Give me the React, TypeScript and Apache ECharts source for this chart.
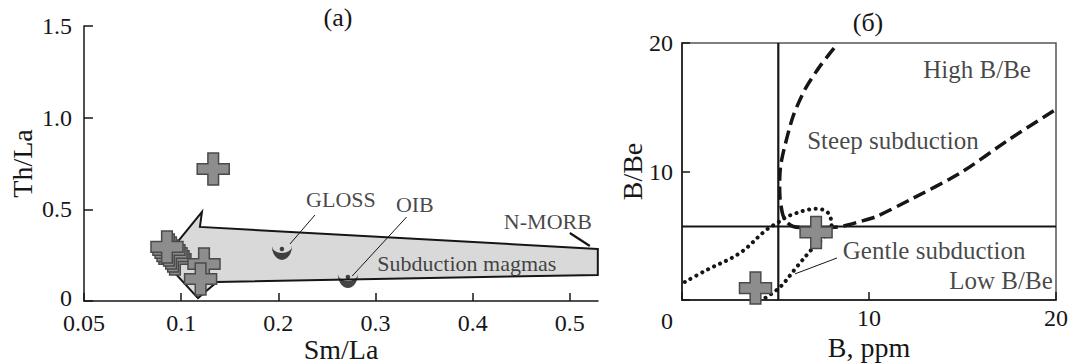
import React, { useEffect, useRef } from 'react';
import * as echarts from 'echarts';

const FONT = 'Liberation Serif, Times New Roman, serif';
const INK = '#161616';

// ---------- Panel (a): Th/La vs Sm/La ----------
const smLaTicks = [0.05, 0.1, 0.2, 0.3, 0.4, 0.5];
const thLaTicks = [0, 0.5, 1.0, 1.5];
// samples (drawn in this order: later items on top)
const samplesSmLa = [0.133, 0.0968, 0.0958, 0.0948, 0.0937, 0.0927, 0.1235, 0.12];
const samplesThLa = [0.72, 0.229, 0.245, 0.262, 0.278, 0.295, 0.202, 0.12];
// "Subduction magmas" arrow outline
const arrowSmLa = [0.5288, 0.1193, 0.1214, 0.0906, 0.1173, 0.1368, 0.5288];
const arrowThLa = [0.284, 0.404, 0.486, 0.224, 0.016, 0.104, 0.142];
// reference compositions
const refNames = ['GLOSS', 'OIB'];
const refSmLa = [0.2037, 0.2716];
const refThLa = [0.284, 0.131];
const refLabelSmLa = [0.2644, 0.3405];
const refLabelThLa = [0.556, 0.524];
const refLeaderSmLa = [[0.2377, 0.212], [0.332, 0.276]];
const refLeaderThLa = [[0.469, 0.311], [0.458, 0.136]];
const aNotes = ['Subduction magmas', 'N-MORB'];
const aNoteSmLa = [0.394, 0.4774];
const aNoteThLa = [0.207, 0.436];
const morbArrowSmLa = [0.5, 0.5206];
const morbArrowThLa = [0.371, 0.3];

// ---------- Panel (б): B/Be vs B ----------
const bTicks = [0, 10, 20];
const steepB = [8.13, 7.38, 6.58, 5.94, 5.45, 5.27, 5.22, 5.25, 5.4, 5.65, 5.95, 6.5, 7.5, 8.45, 9.5, 10.4, 12.2, 14.9, 17.5, 19.95];
const steepR = [19.6, 18.2, 16.4, 14.3, 11.7, 10.4, 9.0, 7.8, 6.6, 6.0, 5.72, 5.62, 5.62, 5.7, 6.1, 6.5, 7.8, 9.9, 12.5, 14.8];
const gentleB = [0.15, 1.33, 3.1, 4.5, 5.1, 5.8, 7.2, 7.8, 8.0, 7.6, 7.0, 6.15, 5.24, 4.44];
const gentleR = [1.4, 2.34, 3.66, 5.45, 6.0, 6.6, 7.1, 6.8, 5.85, 4.9, 4.05, 2.6, 1.0, 0.15];
const samplesB = [7.17, 3.93];
const samplesR = [5.26, 0.93];
const limitB = 5.15;
const limitR = 5.72;
const bNotes = ['High B/Be', 'Steep subduction', 'Gentle subduction', 'Low B/Be'];
const bNoteB = [15.78, 11.28, 13.48, 17.06];
const bNoteR = [17.9, 12.4, 3.82, 1.48];
const gentleLeaderB = [8.29, 6.04];
const gentleLeaderR = [3.27, 2.03];

// piecewise Sm/La scale: equal spacing between the tick values
function toT(v: number): number {
  const t = smLaTicks;
  for (let i = 0; i < t.length - 1; i++) {
    if (v <= t[i + 1]) return i + (v - t[i]) / (t[i + 1] - t[i]);
  }
  const n = t.length - 1;
  return n + (v - t[n]) / (t[n] - t[n - 1]);
}

const CROSS = 'path://M8,0H16V8H24V16H16V24H8V16H0V8H8Z';
const CUP = 'path://M0,0A10,12 0 0 0 20,0A10,6 0 0 1 0,0Z';

export default function App() {
  const ref = useRef<HTMLDivElement>(null);
  useEffect(() => {
    if (!ref.current) return;
    const chart = echarts.init(ref.current, undefined, { renderer: 'svg' });
    const tickFont = { fontFamily: FONT, fontSize: 24, color: INK };
    const nameFont = { fontFamily: FONT, fontSize: 28, color: INK };
    const axisLine = { show: true, onZero: false, lineStyle: { color: INK, width: 1.5 } };

    const option: any = {
      animation: false,
      textStyle: { fontFamily: FONT },
      grid: [
        { left: 84, top: 26, width: 514, height: 275, outerBoundsMode: 'none', containLabel: false },
        { left: 682, top: 43, width: 374, height: 257, outerBoundsMode: 'none', containLabel: false, show: true, borderColor: '#555', borderWidth: 1.5, backgroundColor: 'transparent' },
      ],
      xAxis: [
        {
          gridIndex: 0, type: 'value', min: 0, max: toT(0.529),
          axisLine,
          axisTick: { inside: true, length: 8, lineStyle: { color: INK, width: 1.5 }, customValues: smLaTicks.map((_, i) => i) },
          axisLabel: { ...tickFont, margin: 12, lineHeight: 20, customValues: smLaTicks.map((_, i) => i), formatter: (v: number) => String(smLaTicks[Math.round(v)]) },
          splitLine: { show: false },
          name: 'Sm/La', nameLocation: 'middle', nameGap: 34, nameMoveOverlap: false, nameTextStyle: nameFont,
        },
        {
          gridIndex: 1, type: 'value', min: 0, max: 20, interval: 10,
          axisLine,
          axisTick: { inside: true, length: 8, lineStyle: { color: INK, width: 1.5 } },
          axisLabel: { ...tickFont, margin: 7, lineHeight: 22, formatter: (v: number) => (v === 0 ? '' : String(v)) },
          splitLine: { show: false },
          name: 'B, ppm', nameLocation: 'middle', nameGap: 33, nameMoveOverlap: false, nameTextStyle: nameFont,
        },
      ],
      yAxis: [
        {
          gridIndex: 0, type: 'value', min: 0, max: 1.5, interval: 0.5,
          axisLine,
          axisTick: { inside: true, length: 9, lineStyle: { color: INK, width: 1.5 } },
          axisLabel: {
            ...tickFont, margin: 12, lineHeight: 16,
            formatter: (v: number) => (v === 0 ? '{z|0}' : v.toFixed(1)),
            rich: { z: { fontFamily: FONT, fontSize: 24, color: INK, lineHeight: 16, padding: [0, 0, 6, 0] } },
          },
          splitLine: { show: false },
          name: 'Th/La', nameLocation: 'middle', nameGap: 48, nameMoveOverlap: false, nameTextStyle: nameFont,
        },
        {
          gridIndex: 1, type: 'value', min: 0, max: 20, interval: 10,
          axisLine,
          axisTick: { inside: true, length: 8, lineStyle: { color: INK, width: 1.5 } },
          axisLabel: { ...tickFont, margin: 9, formatter: (v: number) => (v === 0 ? '' : String(v)) },
          splitLine: { show: false },
          name: 'B/Be', nameLocation: 'middle', nameGap: 36, nameMoveOverlap: false, nameTextStyle: nameFont,
        },
      ],
      graphic: [
        { type: 'text', x: 338, y: 17, style: { text: '(a)', font: `26px ${FONT}`, fill: INK, align: 'center', verticalAlign: 'middle' } },
        { type: 'text', x: 868, y: 22, style: { text: '(б)', font: `26px ${FONT}`, fill: INK, align: 'center', verticalAlign: 'middle' } },
        { type: 'text', x: 667, y: 321, style: { text: '0', font: `24px ${FONT}`, fill: INK, align: 'center', verticalAlign: 'middle' } },
      ],
      series: [
        // ----- panel (a) -----
        {
          type: 'custom', xAxisIndex: 0, yAxisIndex: 0, silent: true, z: 1,
          data: arrowSmLa.map((v, i) => [toT(v), arrowThLa[i]]),
          renderItem: (params: any, api: any) => {
            if (params.dataIndex !== 0) return null;
            const points = arrowSmLa.map((v, i) => api.coord([toT(v), arrowThLa[i]]));
            return { type: 'polygon', shape: { points }, style: { fill: '#d9d9d9', stroke: INK, lineWidth: 2, lineJoin: 'miter' } };
          },
        },
        ...refNames.map((_, k) => ({
          type: 'line', xAxisIndex: 0, yAxisIndex: 0, silent: true, symbol: 'none', z: 3,
          data: refLeaderSmLa[k].map((v, i) => [toT(v), refLeaderThLa[k][i]]),
          lineStyle: { color: INK, width: 1 },
        })),
        {
          type: 'scatter', xAxisIndex: 0, yAxisIndex: 0, silent: true, z: 4,
          symbol: CUP, symbolSize: [20, 14], symbolOffset: [0, 4],
          itemStyle: { color: INK },
          data: refSmLa.map((v, i) => [toT(v), refThLa[i]]),
        },
        {
          type: 'scatter', xAxisIndex: 0, yAxisIndex: 0, silent: true, z: 4,
          symbol: 'circle', symbolSize: 4.5, itemStyle: { color: INK },
          data: refSmLa.map((v, i) => [toT(v), refThLa[i]]),
        },
        {
          type: 'scatter', xAxisIndex: 0, yAxisIndex: 0, silent: true, z: 5,
          symbol: CROSS, symbolSize: 32,
          itemStyle: { color: '#8d8d8d', borderColor: '#4a4a4a', borderWidth: 1.5, opacity: 1 },
          data: samplesSmLa.map((v, i) => [toT(v), samplesThLa[i]]),
        },
        {
          type: 'scatter', xAxisIndex: 0, yAxisIndex: 0, silent: true, z: 6,
          symbolSize: 1, itemStyle: { color: 'rgba(0,0,0,0)' },
          label: { show: true, position: 'inside', formatter: '{b}', fontFamily: FONT, fontSize: 22, color: INK },
          data: [
            ...refNames.map((n, i) => ({ name: n, value: [toT(refLabelSmLa[i]), refLabelThLa[i]] })),
            ...aNotes.map((n, i) => ({ name: n, value: [toT(aNoteSmLa[i]), aNoteThLa[i]] })),
          ],
          markLine: {
            silent: true, symbol: ['none', 'arrow'], symbolSize: [0, 11],
            label: { show: false },
            lineStyle: { color: INK, width: 2.2, type: 'solid' },
            data: [[
              { coord: [toT(morbArrowSmLa[0]), morbArrowThLa[0]] },
              { coord: [toT(morbArrowSmLa[1]), morbArrowThLa[1]] },
            ]],
          },
        },
        // ----- panel (б) -----
        {
          type: 'line', xAxisIndex: 1, yAxisIndex: 1, silent: true, symbol: 'none', z: 2,
          data: [[limitB, 0], [limitB, 20]], lineStyle: { color: INK, width: 2.2 },
        },
        {
          type: 'line', xAxisIndex: 1, yAxisIndex: 1, silent: true, symbol: 'none', z: 2,
          data: [[0, limitR], [20, limitR]], lineStyle: { color: INK, width: 2.2 },
        },
        {
          type: 'line', xAxisIndex: 1, yAxisIndex: 1, silent: true, symbol: 'none', z: 3, smooth: 0.25,
          data: steepB.map((v, i) => [v, steepR[i]]),
          lineStyle: { color: INK, width: 3.5, type: [13, 6] },
        },
        {
          type: 'line', xAxisIndex: 1, yAxisIndex: 1, silent: true, symbol: 'none', z: 3, smooth: 0.35,
          data: gentleB.map((v, i) => [v, gentleR[i]]),
          lineStyle: { color: INK, width: 4, type: [0.1, 6.5], cap: 'round' },
        },
        {
          type: 'line', xAxisIndex: 1, yAxisIndex: 1, silent: true, symbol: 'none', z: 3,
          data: gentleLeaderB.map((v, i) => [v, gentleLeaderR[i]]),
          lineStyle: { color: INK, width: 1 },
        },
        {
          type: 'scatter', xAxisIndex: 1, yAxisIndex: 1, silent: true, z: 5,
          symbol: CROSS, symbolSize: 32,
          itemStyle: { color: '#8d8d8d', borderColor: '#4a4a4a', borderWidth: 1.5, opacity: 1 },
          data: samplesB.map((v, i) => [v, samplesR[i]]),
        },
        {
          type: 'scatter', xAxisIndex: 1, yAxisIndex: 1, silent: true, z: 6,
          symbolSize: 1, itemStyle: { color: 'rgba(0,0,0,0)' },
          label: { show: true, position: 'inside', formatter: '{b}', fontFamily: FONT, fontSize: 25, color: INK },
          data: bNotes.map((n, i) => ({ name: n, value: [bNoteB[i], bNoteR[i]] })),
        },
      ],
    };
    chart.setOption(option);
    return () => chart.dispose();
  }, []);
  return (
    <div
      ref={ref}
      style={{ position: 'fixed', left: 0, top: 0, width: 1071, height: 363, background: '#fff' }}
    />
  );
}
